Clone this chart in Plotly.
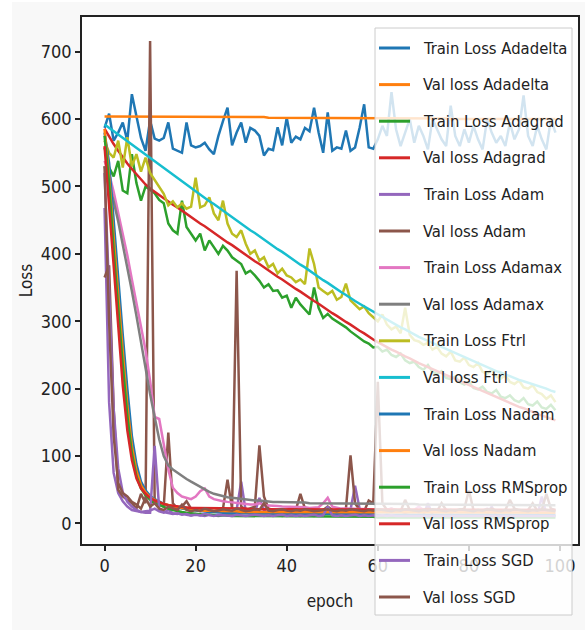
import plotly.graph_objects as go

epochs = list(range(100))

train_adadelta = [587, 608, 568, 580, 595, 568, 637, 602, 572, 553,
                  598, 571, 568, 572, 595, 556, 553, 550, 595, 561,
                  558, 560, 565, 555, 548, 575, 597, 617, 561, 580,
                  595, 565, 587, 583, 575, 546, 556, 554, 588, 561,
                  602, 565, 574, 570, 587, 582, 617, 580, 550, 610,
                  553, 558, 556, 583, 553, 558, 587, 622, 558, 556,
                  570, 590, 575, 640, 585, 560, 580, 600, 565, 590,
                  575, 555, 600, 585, 570, 560, 620, 575, 560, 585,
                  565, 590, 570, 555, 600, 580, 565, 575, 560, 595,
                  570, 585, 635, 575, 560, 590, 570, 555, 600, 580]
val_adadelta = [604, 604, 604, 604, 604, 604, 604, 604, 604, 604,
                604, 604, 604, 604, 604, 604, 603, 603, 603, 603,
                603, 603, 603, 603, 603, 603, 603, 603, 603, 603,
                603, 603, 603, 603, 603, 603, 602, 602, 602, 602,
                602, 602, 602, 602, 602, 602, 602, 602, 602, 602,
                602, 602, 602, 602, 602, 602, 601, 601, 601, 601,
                601, 601, 601, 601, 601, 601, 601, 601, 601, 601,
                601, 601, 601, 601, 601, 601, 600, 600, 600, 600,
                600, 600, 600, 600, 600, 600, 600, 600, 600, 600,
                600, 600, 600, 600, 600, 600, 600, 600, 600, 600]
train_adagrad = [558, 528, 515, 538, 494, 490, 548, 505, 479, 500,
                 495, 490, 480, 475, 445, 435, 430, 479, 440, 430,
                 420, 430, 405, 420, 410, 400, 412, 405, 395, 390,
                 385, 371, 375, 368, 360, 350, 355, 345, 346, 335,
                 338, 320, 335, 325, 318, 310, 350, 320, 305, 311,
                 304, 300, 296, 291, 285, 280, 274, 270, 267, 261,
                 262, 255, 258, 250, 247, 252, 242, 238, 240, 232,
                 228, 235, 225, 222, 226, 216, 214, 218, 209, 206,
                 210, 201, 199, 203, 195, 193, 198, 188, 186, 190,
                 183, 180, 186, 177, 175, 181, 172, 170, 176, 168]
val_adagrad = [586, 574, 563, 553, 543, 534, 526, 518, 510, 503,
               497, 492, 487, 483, 478, 473, 469, 464, 459, 455,
               450, 445, 441, 436, 431, 427, 422, 417, 413, 408,
               403, 399, 394, 389, 385, 380, 376, 371, 366, 362,
               357, 353, 348, 344, 339, 335, 330, 326, 321, 317,
               312, 308, 303, 299, 295, 290, 286, 282, 277, 273,
               269, 265, 262, 258, 255, 251, 248, 245, 241, 238,
               235, 232, 229, 226, 223, 220, 217, 214, 211, 208,
               205, 202, 199, 196, 193, 190, 187, 185, 182, 179,
               176, 173, 171, 168, 165, 163, 160, 158, 155, 153]
train_adam = [468, 180, 75, 45, 33, 25, 20, 18, 17, 18,
              19, 22, 18, 16, 20, 15, 14, 16, 13, 12,
              14, 12, 11, 13, 12, 11, 12, 14, 12, 20,
              62, 18, 14, 16, 38, 20, 14, 12, 13, 11,
              12, 14, 12, 11, 13, 12, 11, 13, 12, 22,
              14, 12, 11, 13, 20, 56, 22, 14, 12, 13,
              12, 11, 13, 12, 11, 12, 14, 12, 11, 13,
              12, 30, 13, 12, 11, 12, 13, 12, 11, 12,
              13, 12, 11, 12, 13, 25, 12, 11, 12, 13,
              12, 11, 12, 13, 12, 11, 40, 14, 12, 11]
val_adam = [365, 383, 170, 50, 40, 35, 30, 22, 44, 30,
            716, 35, 28, 25, 135, 30, 22, 25, 33, 22,
            20, 18, 20, 19, 18, 20, 22, 65, 22, 375,
            25, 20, 22, 25, 116, 40, 22, 20, 19, 18,
            20, 22, 20, 44, 22, 20, 18, 19, 20, 25,
            20, 18, 19, 22, 101, 30, 20, 18, 34, 30,
            210, 30, 20, 22, 19, 18, 35, 20, 19, 18,
            20, 22, 19, 18, 30, 20, 19, 18, 20, 22,
            49, 20, 19, 18, 20, 22, 19, 18, 20, 35,
            22, 19, 18, 20, 30, 19, 20, 44, 22, 20]
train_adamax = [538, 519, 492, 462, 430, 398, 362, 325, 290, 257,
                212, 158, 155, 120, 80, 53, 45, 40, 38, 36,
                40, 48, 52, 40, 36, 34, 33, 32, 31, 30,
                30, 29, 28, 28, 30, 27, 27, 26, 26, 25,
                25, 25, 24, 24, 24, 23, 23, 24, 30, 38,
                25, 23, 22, 22, 22, 22, 21, 21, 21, 20,
                21, 20, 20, 22, 20, 20, 19, 20, 20, 25,
                20, 19, 20, 19, 20, 20, 19, 19, 20, 19,
                19, 20, 19, 19, 22, 19, 19, 18, 19, 19,
                18, 19, 19, 18, 19, 18, 19, 18, 18, 19]
val_adamax = [530, 505, 478, 448, 415, 380, 345, 308, 268, 230,
              192, 158, 125, 100, 86, 80, 75, 70, 66, 62,
              58, 54, 50, 47, 44, 42, 40, 39, 38, 37,
              36, 35, 35, 34, 34, 33, 33, 32, 32, 32,
              31, 31, 31, 31, 31, 30, 30, 30, 30, 30,
              30, 30, 30, 30, 30, 30, 30, 30, 30, 29,
              29, 29, 29, 29, 29, 29, 29, 29, 29, 28,
              28, 28, 28, 28, 28, 28, 28, 28, 28, 28,
              28, 28, 28, 28, 28, 28, 27, 27, 27, 27,
              27, 27, 27, 27, 27, 27, 27, 27, 27, 27]
train_ftrl = [568, 550, 543, 568, 528, 573, 530, 548, 522, 543,
              520, 509, 498, 489, 472, 478, 469, 475, 467, 470,
              513, 469, 472, 484, 460, 450, 479, 445, 430, 425,
              435, 415, 400, 405, 390, 395, 380, 385, 371, 378,
              368, 365, 358, 362, 355, 408, 385, 350, 345, 340,
              345, 332, 336, 356, 331, 325, 318, 322, 312, 306,
              300, 310, 295, 288, 292, 282, 320, 280, 272, 270,
              265, 268, 258, 262, 252, 248, 255, 242, 240, 246,
              235, 232, 238, 225, 222, 228, 218, 215, 220, 210,
              207, 212, 202, 200, 205, 195, 192, 185, 190, 180]
val_ftrl = [592, 587, 582, 577, 572, 567, 562, 557, 552, 547,
            542, 537, 532, 527, 522, 517, 512, 507, 502, 498,
            493, 488, 483, 478, 474, 469, 464, 459, 454, 450,
            445, 440, 435, 431, 426, 421, 417, 412, 407, 403,
            398, 393, 389, 384, 380, 375, 370, 366, 361, 357,
            352, 348, 343, 339, 334, 330, 326, 322, 318, 314,
            310, 306, 302, 299, 295, 291, 288, 284, 281, 277,
            274, 271, 267, 264, 261, 258, 255, 252, 249, 246,
            243, 240, 237, 234, 232, 229, 226, 224, 221, 218,
            216, 213, 211, 209, 206, 204, 202, 200, 197, 195]
train_nadam = [580, 535, 450, 360, 280, 200, 130, 88, 62, 49,
               41, 36, 32, 29, 27, 25, 23, 22, 21, 20,
               19, 18, 18, 17, 17, 16, 16, 16, 15, 15,
               15, 15, 15, 14, 14, 15, 14, 14, 14, 14,
               14, 14, 14, 14, 14, 14, 14, 14, 14, 14,
               14, 14, 14, 14, 14, 14, 14, 14, 14, 14,
               13, 13, 13, 13, 13, 13, 13, 13, 13, 13,
               13, 13, 13, 13, 13, 13, 13, 13, 13, 13,
               13, 13, 13, 13, 13, 13, 13, 13, 13, 13,
               13, 13, 13, 13, 13, 13, 13, 13, 13, 13]
val_nadam = [585, 515, 425, 335, 255, 175, 115, 78, 57, 46,
             39, 35, 31, 29, 27, 25, 24, 23, 22, 21,
             20, 20, 19, 19, 19, 18, 18, 18, 18, 18,
             17, 17, 17, 17, 17, 17, 17, 17, 17, 17,
             17, 17, 17, 17, 17, 17, 17, 17, 17, 17,
             16, 16, 16, 16, 16, 16, 16, 16, 16, 16,
             16, 16, 16, 16, 16, 16, 16, 16, 16, 16,
             16, 16, 16, 16, 16, 16, 16, 16, 16, 16,
             16, 16, 16, 16, 16, 16, 16, 16, 16, 16,
             16, 16, 16, 16, 16, 16, 16, 16, 16, 16]
train_rmsprop = [575, 505, 405, 315, 235, 160, 104, 70, 52, 42,
                 35, 30, 27, 24, 22, 20, 18, 17, 16, 15,
                 14, 14, 13, 13, 12, 12, 12, 11, 11, 11,
                 11, 11, 11, 10, 10, 10, 10, 10, 10, 10,
                 10, 10, 10, 10, 10, 10, 10, 10, 10, 10,
                 10, 10, 10, 10, 10, 10, 10, 10, 10, 10,
                 9, 9, 9, 9, 9, 9, 9, 9, 9, 9,
                 9, 9, 9, 9, 9, 9, 9, 9, 9, 9,
                 9, 9, 9, 9, 9, 9, 9, 9, 9, 9,
                 9, 9, 9, 9, 9, 9, 9, 9, 9, 9]
val_rmsprop = [560, 470, 372, 282, 205, 138, 94, 67, 52, 44,
               38, 34, 31, 29, 27, 26, 25, 24, 24, 23,
               23, 23, 22, 22, 22, 22, 22, 22, 22, 22,
               22, 22, 21, 21, 21, 21, 21, 21, 21, 21,
               21, 21, 21, 21, 21, 21, 21, 21, 21, 21,
               21, 21, 21, 21, 21, 21, 21, 21, 21, 21,
               20, 20, 20, 20, 20, 20, 20, 20, 20, 20,
               20, 20, 20, 20, 20, 20, 20, 20, 20, 20,
               20, 20, 20, 20, 20, 20, 20, 20, 20, 20,
               20, 20, 20, 20, 20, 20, 20, 20, 20, 20]
train_sgd = [520, 330, 170, 82, 46, 32, 25, 20, 17, 16,
             16, 115, 22, 17, 15, 14, 15, 13, 14, 12,
             13, 12, 14, 12, 11, 13, 12, 12, 11, 13,
             12, 11, 12, 13, 12, 11, 12, 11, 12, 13,
             11, 12, 11, 12, 11, 12, 13, 11, 12, 25,
             12, 11, 12, 11, 12, 13, 11, 12, 11, 12,
             11, 12, 11, 12, 11, 11, 12, 11, 12, 11,
             12, 11, 11, 12, 11, 12, 11, 11, 12, 11,
             11, 12, 11, 11, 12, 11, 11, 12, 11, 11,
             12, 11, 11, 12, 11, 11, 11, 12, 11, 11]
val_sgd = [530, 300, 130, 60, 45, 40, 32, 28, 22, 38,
           25, 30, 22, 20, 25, 22, 20, 28, 20, 18,
           20, 19, 22, 20, 18, 19, 21, 20, 19, 22,
           20, 18, 19, 21, 20, 30, 19, 18, 20, 21,
           19, 18, 20, 19, 21, 20, 18, 19, 20, 21,
           19, 18, 20, 19, 21, 20, 19, 18, 20, 19,
           21, 20, 19, 18, 20, 19, 21, 20, 19, 18,
           20, 19, 21, 20, 19, 18, 20, 19, 21, 20,
           19, 18, 20, 19, 21, 20, 19, 18, 20, 19,
           21, 20, 19, 18, 20, 19, 21, 20, 19, 18]

series = [
    ("Train Loss Adadelta", train_adadelta),
    ("Val loss Adadelta", val_adadelta),
    ("Train Loss Adagrad", train_adagrad),
    ("Val loss Adagrad", val_adagrad),
    ("Train Loss Adam", train_adam),
    ("Val loss Adam", val_adam),
    ("Train Loss Adamax", train_adamax),
    ("Val loss Adamax", val_adamax),
    ("Train Loss Ftrl", train_ftrl),
    ("Val loss Ftrl", val_ftrl),
    ("Train Loss Nadam", train_nadam),
    ("Val loss Nadam", val_nadam),
    ("Train Loss RMSprop", train_rmsprop),
    ("Val loss RMSprop", val_rmsprop),
    ("Train Loss SGD", train_sgd),
    ("Val loss SGD", val_sgd),
]

palette = ['#1f77b4', '#ff7f0e', '#2ca02c', '#d62728', '#9467bd',
           '#8c564b', '#e377c2', '#7f7f7f', '#bcbd22', '#17becf']

FONT = "Liberation Sans Narrow, DejaVu Sans Condensed, Arial Narrow, Liberation Sans, sans-serif"

W, H = 585, 630
L, R, T, B = 82, 7, 17, 86
pw, ph = W - L - R, H - T - B

def px_to_paper_x(px):
    return (px - L) / pw

def px_to_paper_y(py):
    return (H - B - py) / ph

fig = go.Figure()
for i, (name, vals) in enumerate(series):
    fig.add_trace(go.Scatter(
        x=epochs, y=vals, mode="lines", name=name,
        line=dict(color=palette[i % 10], width=2.5),
        showlegend=False,
    ))

# Legend drawn by hand so that it can overhang the axes like matplotlib's
shapes = [
    dict(type="rect", xref="paper", yref="paper", layer="below",
         x0=px_to_paper_x(0), x1=px_to_paper_x(12),
         y0=px_to_paper_y(H), y1=px_to_paper_y(0),
         fillcolor="white", line=dict(width=0)),
    dict(type="rect", xref="paper", yref="paper", layer="below",
         x0=px_to_paper_x(0), x1=px_to_paper_x(W),
         y0=px_to_paper_y(2), y1=px_to_paper_y(0),
         fillcolor="white", line=dict(width=0)),
    dict(type="rect", xref="paper", yref="paper", layer="above",
         x0=px_to_paper_x(375), x1=px_to_paper_x(572),
         y0=px_to_paper_y(615), y1=px_to_paper_y(28),
         fillcolor="rgba(255,255,255,0.8)",
         line=dict(color="#cccccc", width=1)),
]
annotations = []
LEG_TOP, LEG_STEP = 48, 36.6
for i, (name, _) in enumerate(series):
    yc = px_to_paper_y(LEG_TOP + LEG_STEP * i)
    shapes.append(dict(type="line", xref="paper", yref="paper", layer="above",
                       x0=px_to_paper_x(379), x1=px_to_paper_x(410),
                       y0=yc, y1=yc,
                       line=dict(color=palette[i % 10], width=3)))
    annotations.append(dict(xref="paper", yref="paper",
                            x=px_to_paper_x(421), y=yc,
                            xanchor="left", yanchor="middle",
                            text=name, showarrow=False,
                            font=dict(family=FONT, size=16.5, color="#222222")))

fig.update_layout(
    width=W, height=H,
    margin=dict(l=L, r=R, t=T, b=B, autoexpand=False),
    paper_bgcolor="#f8f8f8",
    plot_bgcolor="white",
    font=dict(family=FONT, size=17, color="#222222"),
    showlegend=False,
    xaxis=dict(
        range=[-4.95, 103.95],
        tickvals=[0, 20, 40, 60, 80, 100],
        tickfont=dict(size=18),
        showline=True, mirror=True, linecolor="#222", linewidth=1.5,
        ticks="outside", ticklen=5, tickwidth=1.5, tickcolor="#222",
        showgrid=False, zeroline=False,
        title=dict(text="epoch", standoff=20, font=dict(size=17)),
        automargin=False,
    ),
    yaxis=dict(
        range=[-30.5, 751.5],
        tickvals=[0, 100, 200, 300, 400, 500, 600, 700],
        tickfont=dict(size=18),
        showline=True, mirror=True, linecolor="#222", linewidth=1.5,
        ticks="outside", ticklen=5, tickwidth=1.5, tickcolor="#222",
        showgrid=False, zeroline=False,
        title=dict(text="Loss", standoff=4, font=dict(size=17)),
        automargin=False,
    ),
    shapes=shapes,
    annotations=annotations,
)

fig.write_html(
    "out.html",
    config={"displayModeBar": False},
    post_script="document.body.style.margin='0';document.body.style.padding='0';",
)
